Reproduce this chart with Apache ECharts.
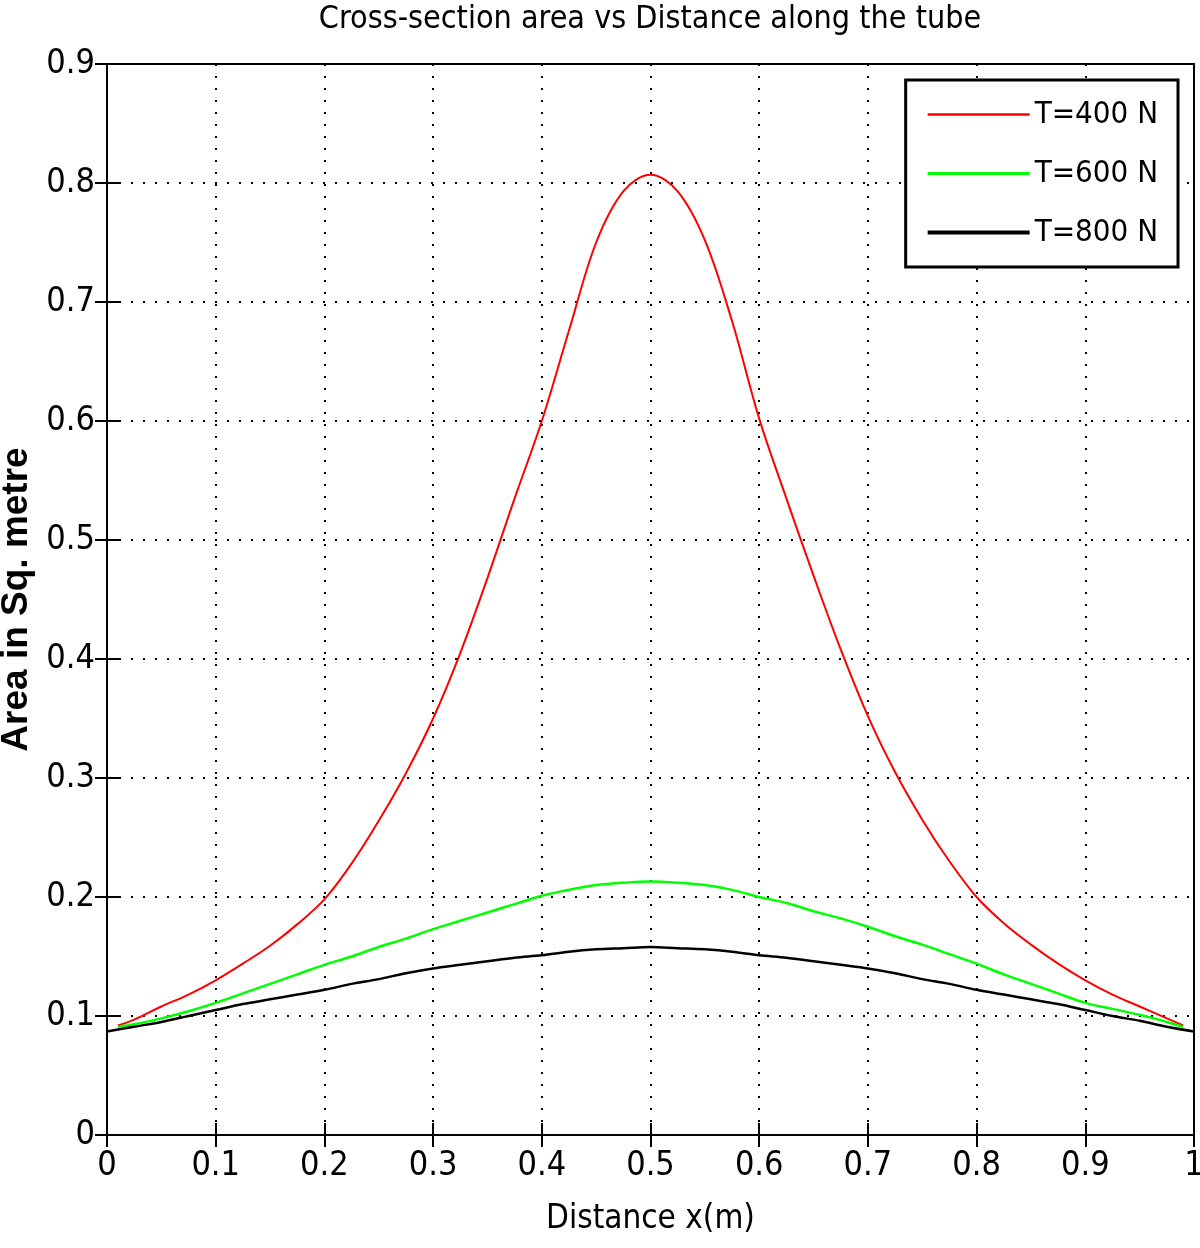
<!DOCTYPE html>
<html>
<head>
<meta charset="utf-8">
<script src="https://cdn.jsdelivr.net/npm/echarts@6/dist/echarts.min.js"></script>
<style>
html,body{margin:0;padding:0;background:#fff;}
#chart{width:1200px;height:1248px;}
</style>
</head>
<body>
<div id="chart"></div>
<script>
// distance along the tube (m)
var xRG = [0.01,0.025,0.05,0.075,0.1,0.125,0.15,0.175,0.2,0.225,0.25,0.275,0.3,0.325,0.35,0.375,0.4,0.425,0.45,0.475,0.5,
           0.525,0.55,0.575,0.6,0.625,0.65,0.675,0.7,0.725,0.75,0.775,0.8,0.825,0.85,0.875,0.9,0.925,0.95,0.975,0.99];
var xBlk = [0,0.025,0.05,0.075,0.1,0.125,0.15,0.175,0.2,0.225,0.25,0.275,0.3,0.325,0.35,0.375,0.4,0.425,0.45,0.475,0.5,
            0.525,0.55,0.575,0.6,0.625,0.65,0.675,0.7,0.725,0.75,0.775,0.8,0.825,0.85,0.875,0.9,0.925,0.95,0.975,1];
// area values
var t400 = [0.092,0.097,0.108,0.118,0.130,0.144,0.159,0.177,0.198,0.228,0.264,0.304,0.350,0.405,0.468,0.535,0.600,0.676,0.750,0.793,0.807,
            0.793,0.752,0.684,0.602,0.535,0.470,0.408,0.352,0.305,0.265,0.230,0.200,0.178,0.160,0.144,0.130,0.118,0.108,0.098,0.092];
var t600 = [0.091,0.093,0.098,0.104,0.111,0.119,0.127,0.135,0.143,0.150,0.158,0.165,0.173,0.180,0.187,0.194,0.201,0.206,0.210,0.212,0.213,
            0.212,0.210,0.206,0.200,0.195,0.188,0.182,0.175,0.167,0.160,0.152,0.144,0.135,0.127,0.119,0.111,0.106,0.101,0.095,0.091];
var t800 = [0.087,0.091,0.095,0.100,0.105,0.110,0.114,0.118,0.122,0.127,0.131,0.136,0.140,0.143,0.146,0.149,0.151,0.154,0.156,0.157,0.158,
            0.157,0.156,0.154,0.151,0.149,0.146,0.143,0.140,0.136,0.131,0.127,0.122,0.118,0.114,0.110,0.105,0.100,0.096,0.091,0.087];
var names = ['T=400 N','T=600 N','T=800 N'];

function pairs(xs, ys){
  var out = [];
  for (var i = 0; i < xs.length; i++) out.push([xs[i], ys[i]]);
  return out;
}

var FONT = '"Liberation Sans Narrow","DejaVu Sans Condensed","Roboto Condensed",sans-serif';
var chart = echarts.init(document.getElementById('chart'));

var dotted = {show:true, lineStyle:{color:'#000', width:2, type:[2,10]}};

var option = {
  animation:false,
  backgroundColor:'#fff',
  title:{
    text:'Cross-section area vs Distance along the tube',
    left:650, textAlign:'center', top:4, padding:0,
    textStyle:{fontFamily:FONT, fontSize:32, fontWeight:'normal', color:'#000'}
  },
  legend:{
    orient:'vertical', right:22, top:80,
    padding:[19,20,19,20],
    itemGap:28, itemWidth:102, itemHeight:20,
    backgroundColor:'#fff', borderColor:'#000', borderWidth:3, borderRadius:0,
    itemStyle:{opacity:0},
    textStyle:{fontFamily:FONT, fontSize:31, color:'#000'},
    data:[
      {name:names[0], lineStyle:{width:2.5}},
      {name:names[1], lineStyle:{width:3}},
      {name:names[2], lineStyle:{width:4}}
    ]
  },
  grid:{left:107, right:6, top:64, bottom:113, outerBoundsMode:'none', containLabel:false,
        show:true, borderColor:'#000', borderWidth:2},
  xAxis:[{
    type:'value', min:0, max:1, interval:0.1, position:'bottom',
    name:'Distance x(m)', nameLocation:'middle', nameGap:68,
    nameTextStyle:{fontFamily:FONT, fontSize:33, color:'#000'},
    axisLine:{show:true, lineStyle:{color:'#000', width:2}},
    axisTick:{show:true, inside:true, length:12, lineStyle:{color:'#000', width:2}},
    axisLabel:{fontFamily:FONT, fontSize:34, color:'#000', margin:14},
    splitLine:dotted
  },{
    type:'value', min:0, max:1, interval:0.1, position:'top',
    axisLine:{show:true, lineStyle:{color:'#000', width:2}},
    axisTick:{show:true, inside:true, length:12, lineStyle:{color:'#000', width:2}},
    axisLabel:{show:false}, splitLine:{show:false}
  }],
  yAxis:[{
    type:'value', min:0, max:0.9, interval:0.1, position:'left',
    name:'Area in Sq. metre', nameLocation:'middle', nameGap:71,
    nameTextStyle:{fontFamily:'"Liberation Sans",Arial,sans-serif', fontSize:37, fontWeight:'bold', color:'#000'},
    axisLine:{show:true, lineStyle:{color:'#000', width:2}},
    axisTick:{show:true, inside:true, length:12, lineStyle:{color:'#000', width:2}},
    axisLabel:{fontFamily:FONT, fontSize:34, color:'#000', margin:12},
    splitLine:dotted
  },{
    type:'value', min:0, max:0.9, interval:0.1, position:'right',
    axisLine:{show:true, lineStyle:{color:'#000', width:2}},
    axisTick:{show:true, inside:true, length:12, lineStyle:{color:'#000', width:2}},
    axisLabel:{show:false}, splitLine:{show:false}
  }],
  series:[
    {name:names[0], type:'line', symbol:'none', smooth:0.35, data:pairs(xRG, t400), color:'#ff0000', lineStyle:{color:'#ff0000', width:2}},
    {name:names[1], type:'line', symbol:'none', smooth:0.35, data:pairs(xRG, t600), color:'#00ff00', lineStyle:{color:'#00ff00', width:2.5}},
    {name:names[2], type:'line', symbol:'none', smooth:0.35, data:pairs(xBlk, t800), color:'#000000', lineStyle:{color:'#000000', width:2.5}}
  ]
};
chart.setOption(option);
</script>
</body>
</html>
